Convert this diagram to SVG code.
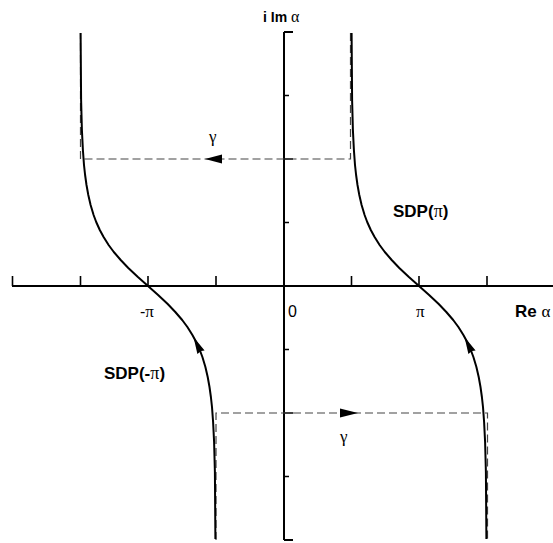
<svg xmlns="http://www.w3.org/2000/svg" width="553" height="543" viewBox="0 0 553 543">
<style>
.axis{stroke:#000;stroke-width:2;fill:none}
.tick{stroke:#000;stroke-width:1.6;fill:none}
.curve{stroke:#000;stroke-width:2;fill:none;stroke-linejoin:round}
.dash{stroke:#444;stroke-width:1.2;fill:none;stroke-dasharray:8 4}
.head{fill:#000;stroke:none}
.lbl{font-family:"Liberation Sans",Arial,sans-serif;fill:#000}
.b{font-weight:bold}
.g{font-family:"Liberation Serif","Times New Roman",serif;font-weight:normal}
</style>
<rect width="553" height="543" fill="#fff"/>
<g id="axes">
<path class="axis" d="M12 286H553M284 32V540M284 32h9M284 540h9"/>
<path class="tick" d="M12.5 286v-10M80.5 286v-10M148 286v-10M216 286v-10M351.5 286v-10M419 286v-10M487 286v-10"/>
<path class="tick" d="M284 159h9M284 413h9M284 95.5h5M284 222.5h5M284 349.5h5M284 476.5h5"/>
</g>
<g id="connectors">
<path class="dash" d="M350.5 33V159H80.5V33"/>
<path class="dash" d="M216 540V413H487.5V540"/>
<polygon class="head" points="205,159 222,154.5 222,163.5"/>
<polygon class="head" points="358,413 340,408.5 340,417.5"/>
</g>
<g id="sdp-pi">
<path class="curve" d="M351.6 33L352.1 100L352.9 130L353.9 150L355 165L356.1 175L357.5 185L359.3 195L361.6 205L364.6 215L367.2 222L370.8 230L374.6 237L379.6 245L384.8 252L391.7 260L399.3 268L408.9 277L419 286L429.1 295L438.7 304L446.3 312L453.2 320L458.4 327L463.4 335L467.2 342L470.8 350L473.4 357L476.4 367L478.7 377L480.5 387L481.9 397L483 407L484.1 422L485.1 442L485.9 472L486.4 539"/>
<polygon class="head" points="464.5,337 475.6,350.5 472,351 468.4,354.1"/>
</g>
<g id="sdp-minus-pi">
<path class="curve" d="M80.6 33L81.1 100L81.9 130L82.9 150L84 165L85.1 175L86.5 185L88.3 195L90.6 205L93.6 215L96.2 222L99.8 230L103.6 237L108.6 245L113.8 252L120.7 260L128.3 268L137.9 277L148 286L158.1 295L167.7 304L175.3 312L182.2 320L187.4 327L192.4 335L196.2 342L199.8 350L202.4 357L205.4 367L207.7 377L209.5 387L210.9 397L212 407L213.1 422L214.1 442L214.9 472L215.4 539"/>
<polygon class="head" points="193.5,337 204.6,350.5 201,351 197.4,354.1"/>
</g>
<g id="labels">
<text class="lbl b" x="263" y="22" font-size="14">i Im <tspan class="g" font-size="16">α</tspan></text>
<text class="lbl b" x="515" y="317" font-size="17">Re <tspan class="g" font-size="17">α</tspan></text>
<text class="lbl" x="288" y="317" font-size="16">0</text>
<text class="lbl g" x="416" y="317" font-size="17">π</text>
<text class="lbl" x="140" y="317" font-size="16">-<tspan class="g" font-size="17">π</tspan></text>
<text class="lbl b" x="393" y="217" font-size="17">SDP(<tspan class="g" font-size="18">π</tspan>)</text>
<text class="lbl b" x="104" y="379" font-size="17">SDP(-<tspan class="g" font-size="18">π</tspan>)</text>
<text class="lbl g" x="209" y="142" font-size="17">γ</text>
<text class="lbl g" x="340" y="442" font-size="17">γ</text>
</g>
</svg>
